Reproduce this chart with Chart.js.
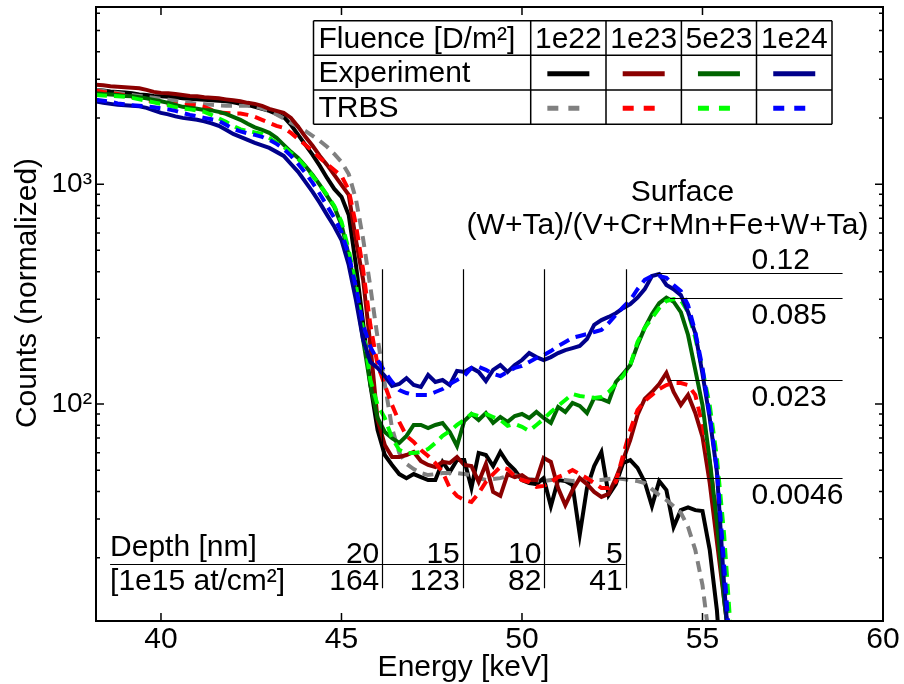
<!DOCTYPE html>
<html><head><meta charset="utf-8">
<script src="https://cdn.jsdelivr.net/npm/chart.js@4/dist/chart.umd.min.js"></script>
<style>html,body{margin:0;padding:0;background:#fff;}canvas{display:block;}</style>
</head><body>
<canvas id="c" width="904" height="684"></canvas>
<script>
// ---- data ----
const energy = [38.2,38.4,38.6,38.8,39.0,39.2,39.4,39.6,39.8,40.0,40.2,40.4,40.6,40.8,41.0,41.2,41.4,41.6,41.8,42.0,42.2,42.4,42.6,42.8,43.0,43.2,43.4,43.6,43.8,44.0,44.2,44.4,44.6,44.8,45.0,45.2,45.4,45.6,45.8,46.0,46.2,46.4,46.6,46.8,47.0,47.2,47.4,47.6,47.8,48.0,48.2,48.4,48.6,48.8,49.0,49.2,49.4,49.6,49.8,50.0,50.2,50.4,50.6,50.8,51.0,51.2,51.4,51.6,51.8,52.0,52.2,52.4,52.6,52.8,53.0,53.2,53.4,53.6,53.8,54.0,54.2,54.4,54.6,54.8,55.0,55.2,55.4,55.6,55.8,56.0];

const exp1e22 = [2685,2670,2640,2630,2615,2590,2562,2548,2522,2510,
 2497,2485,2458,2446,2432,2420,2407,2395,2383,2357,
 2320,2296,2249,2202,2155,2089,2024,1862,1677,1510,
 1359,1211,1068,952,876,725,429,233,122,76.2,
 58.6,52.8,48,46,48,46.5,45.1,45.1,54.5,49,
 55.6,55.6,41.5,59.9,58.6,52.2,60.5,53.9,50.1,45.1,
 43.7,43.2,46,34.3,45.1,44.6,42.8,25.4,41.5,52.2,
 60.5,38.5,43.2,53.9,55.6,51.2,44.2,34.3,44.6,40.6,
 27.6,32.9,33.9,32.9,32.6,21.7,11.5,4,3,3];
const trbs1e22 = [2685,2658,2630,2603,2575,2548,2522,2497,2471,2446,
 2420,2395,2370,2345,2320,2308,2296,2284,2272,2272,
 2272,2272,2260,2213,2155,2078,1993,1902,1824,1749,
 1660,1575,1480,1373,1263,1113,856,563,341,200,
 123,77.8,59.9,53.4,50.6,48.5,47.5,48,48.5,48.5,
 48.5,48,47.5,46,45.1,45.6,46,47,47.5,46.5,
 45.6,45.1,44.6,45.1,45.6,45.1,44.6,45.1,45.6,45.1,
 45.1,45.6,46,45.6,45.1,44.6,43.7,41,38.5,36.6,
 34.3,32,27.6,21.7,15,8.2,3,3,3,3];
const exp1e23 = [2832,2817,2788,2774,2760,2745,2730,2685,2630,2603,
 2590,2575,2548,2522,2510,2485,2471,2458,2432,2407,
 2383,2345,2320,2272,2202,2155,2110,2003,1824,1643,
 1495,1345,1224,1102,993,894,557,367,185.5,84.6,
 65.1,57.4,57.4,58.6,60.5,55,52.8,51.7,54.5,53.9,
 57.4,52.8,52.2,44.2,53.4,39.8,38.2,48,46.5,47.5,
 45.1,45.1,56.8,54.5,41.5,34.7,40.6,46,43.2,39.8,
 37.8,39,46,55.6,68.6,89.2,105.4,113.4,123.3,138.4,
 113.4,99,110,91,70.8,43.7,23.6,12.8,6.9,3];
const trbs1e23 = [2666,2630,2603,2575,2535,2497,2471,2420,2370,2332,
 2320,2308,2296,2284,2284,2249,2178,2122,2110,2099,
 2099,2067,2024,1963,1902,1843,1805,1712,1607,1510,
 1418,1317,1236,1161,1091,942,653,407,229,150.5,
 122,99,82.9,71.6,67.2,61.8,58,53.9,49,41.5,
 38.2,36.6,35.8,39.3,44.2,48,51.7,50.6,47,45.1,
 44.2,42,42.4,44.2,46.5,48,50.1,48,46,43.7,
 41.5,41.5,44.2,58.6,76.2,94,103.2,110,117,122,
 124.5,124.5,122,110,80.3,54.5,30.6,15.8,7.6,3];
const exp5e23 = [2595,2575,2562,2548,2522,2510,2485,2458,2420,2383,
 2345,2296,2249,2226,2202,2178,2167,2133,2089,2024,
 1963,1882,1815,1767,1712,1625,1510,1403,1317,1211,
 1102,993,885,788,653,476,319,195.5,122,86.4,
 74.6,70,66.5,71.6,80.3,80.3,77.7,80.3,82,74.6,
 64.4,83.7,90.1,84.6,91,82,87.3,82.9,88.2,90.1,
 86.4,92,86.4,82,97,92,101.1,98,91,106.6,
 105.4,102.2,126,137,150.5,185.5,222,257,288,305,
 292,262,206,143,99,55.6,29.1,12.8,6.9,3];
const trbs5e23 = [2548,2535,2522,2510,2497,2471,2432,2395,2357,2320,
 2284,2237,2213,2190,2167,2133,2067,1993,1922,1843,
 1776,1749,1721,1694,1625,1542,1480,1388,1303,1199,
 1091,993,894,797,675,502,348,217,128.6,99,
 86.4,70,61.8,59.9,59.9,60.5,62.4,66.5,71.6,75.4,
 80.3,84.6,90.1,88.2,90.1,87.3,84.6,79.5,81.1,78.7,
 75.4,80.3,85.5,92,98,104.3,111.1,108.8,107.7,106.6,
 107.7,113.4,123.3,134.1,150.5,191.5,222,246,273,294,
 300,297,262,200,143,99,56.8,25.4,8.4,3];
const exp1e24 = [2378,2345,2320,2296,2284,2272,2260,2226,2167,2110,
 2078,2035,2003,1983,1963,1932,1892,1843,1767,1694,
 1643,1591,1542,1502,1462,1403,1345,1236,1138,1025,
 922,822,725,642,557,429,297,195.5,155.3,146,
 134,120.7,123.3,131.1,122,119.5,135.5,126,128.6,122,
 141.5,140,146,140,127.3,143,150.5,140,150.5,158.5,
 170.5,163.5,158.5,163.5,170.5,176,179.7,183.6,197.5,229,
 241,249,259,273,285,305,333,382,390,348,
 333,313,262,210,137,86.4,49,15,5.5,3];
const trbs1e24 = [2420,2395,2370,2332,2308,2284,2272,2260,2237,2213,
 2190,2155,2110,2067,2035,2003,1973,1942,1862,1786,
 1740,1703,1677,1643,1591,1526,1447,1345,1236,1125,
 1014,903,797,703,606,476,341,229,181.7,158.5,
 140,126,115.8,112.2,110,110,110,113.4,117,123.3,
 128.6,134.1,146,147.5,143,137,134.1,140,146,149,
 155.3,161.8,167,174.2,183.6,191.5,200,204,208,212.7,
 217,233.6,254,276,297,333,367,382,382,375,
 348,327,282,212.7,146,89.2,50.1,18.5,6.2,3];

const fluences = ['1e22','1e23','5e23','1e24'];
const expSeries = [exp1e22, exp1e23, exp5e23, exp1e24];
const trbsSeries = [trbs1e22, trbs1e23, trbs5e23, trbs1e24];
const xTickValues = [40,45,50,55,60];

// annotations (data coordinates)
const depthEnergy = [46.13, 48.36, 50.62, 52.87];
const depthNm = ['20','15','10','5'];
const depthAreal = ['164','123','82','41'];
const depthSpan = [410, 14.5];
const depthRowCounts = 18.8;
const depthRowStart = 38.59;
const surfaceRatio = ['0.12','0.085','0.023','0.0046'];
const surfaceCounts = [394, 305, 128.6, 46.0];
const surfaceStart = [53.73, 54.1, 54.1, 52.58];
const surfaceEnd = 58.88;

// ---- styles ----
const FONT = "'Liberation Sans', Arial, Helvetica, sans-serif";
const expColors = ['#000000','#8b0000','#006400','#00008b'];
const simColors = ['#808080','#ff0000','#00ff00','#0000ff'];
const DASH = [11, 7];
const AREA = {left: 96, top: 7, right: 883, bottom: 621};

const datasets = [];
fluences.forEach((f, i) => {
  datasets.push({label: 'Experiment ' + f, data: energy.map((e, k) => ({x: e, y: expSeries[i][k]})),
    borderColor: expColors[i], borderWidth: 4, pointRadius: 0, fill: false, tension: 0, clip: 0});
  datasets.push({label: 'TRBS ' + f, data: energy.map((e, k) => ({x: e, y: trbsSeries[i][k]})),
    borderColor: simColors[i], borderWidth: 4, borderDash: DASH, pointRadius: 0, fill: false, tension: 0, clip: 0});
});
datasets.forEach((d, i) => { d.order = datasets.length - i; });

function txt(ctx, s, x, y, align, size) {
  ctx.font = (size || 30) + 'px ' + FONT;
  ctx.textAlign = align || 'left';
  ctx.textBaseline = 'alphabetic';
  ctx.fillText(s, x, y);
}

const deco = {
  id: 'deco',
  afterDatasetsDraw(chart) {
    const {ctx, chartArea: a, scales: {x, y}} = chart;
    ctx.save();
    ctx.fillStyle = '#000';
    ctx.strokeStyle = '#000';

    // depth markers
    ctx.lineWidth = 1.2;
    ctx.beginPath();
    const yTop = y.getPixelForValue(depthSpan[0]);
    const yBot = y.getPixelForValue(depthSpan[1]);
    depthEnergy.forEach(e => {
      const px = Math.round(x.getPixelForValue(e)) + 0.5;
      ctx.moveTo(px, yTop); ctx.lineTo(px, yBot);
    });
    const yRow = Math.round(y.getPixelForValue(depthRowCounts)) + 0.5;
    ctx.moveTo(x.getPixelForValue(depthRowStart), yRow);
    ctx.lineTo(x.getPixelForValue(depthEnergy[depthEnergy.length - 1]), yRow);
    surfaceCounts.forEach((c, i) => {
      const py = Math.round(y.getPixelForValue(c)) + 0.5;
      ctx.moveTo(x.getPixelForValue(surfaceStart[i]), py);
      ctx.lineTo(x.getPixelForValue(surfaceEnd), py);
    });
    ctx.stroke();

    const xRowStart = x.getPixelForValue(depthRowStart);
    txt(ctx, 'Depth [nm]', xRowStart, yRow - 9);
    txt(ctx, '[1e15 at/cm²]', xRowStart, yRow + 25);
    depthEnergy.forEach((e, i) => {
      const px = x.getPixelForValue(e) - 3;
      txt(ctx, depthNm[i], px, yRow - 2, 'right');
      txt(ctx, depthAreal[i], px, yRow + 25, 'right');
    });

    const xLab = x.getPixelForValue(surfaceEnd) - 91;
    surfaceCounts.forEach((c, i) => {
      const py = y.getPixelForValue(c);
      const off = i === 0 ? -4 : 26;
      txt(ctx, surfaceRatio[i], xLab, py + off);
    });
    txt(ctx, 'Surface', 682.5, 200.5, 'center');
    txt(ctx, '(W+Ta)/(V+Cr+Mn+Fe+W+Ta)', 667.5, 234, 'center');

    // legend table
    const cx = [313.5, 530.7, 606, 681.4, 756.5, 832];
    const ry = [20.7, 55.3, 90, 124.3];
    ctx.fillStyle = '#fff';
    ctx.fillRect(cx[0], ry[0], cx[5] - cx[0], ry[3] - ry[0]);
    ctx.fillStyle = '#000';
    ctx.lineWidth = 1.5;
    ctx.beginPath();
    cx.forEach(v => { ctx.moveTo(v, ry[0]); ctx.lineTo(v, ry[3]); });
    ry.forEach(v => { ctx.moveTo(cx[0], v); ctx.lineTo(cx[5], v); });
    ctx.stroke();
    txt(ctx, 'Fluence [D/m²]', cx[0] + 5, ry[0] + 27);
    txt(ctx, 'Experiment', cx[0] + 5, ry[1] + 27);
    txt(ctx, 'TRBS', cx[0] + 5, ry[2] + 27);
    fluences.forEach((f, i) => {
      const mid = (cx[i + 1] + cx[i + 2]) / 2;
      txt(ctx, f, mid, ry[0] + 27, 'center');
      ctx.lineWidth = 5;
      ctx.strokeStyle = expColors[i];
      ctx.setLineDash([]);
      ctx.beginPath();
      ctx.moveTo(mid - 21, (ry[1] + ry[2]) / 2 + 1); ctx.lineTo(mid + 21, (ry[1] + ry[2]) / 2 + 1);
      ctx.stroke();
      ctx.strokeStyle = simColors[i];
      ctx.setLineDash([11, 10]);
      ctx.beginPath();
      ctx.moveTo(mid - 21, (ry[2] + ry[3]) / 2 + 1); ctx.lineTo(mid + 21, (ry[2] + ry[3]) / 2 + 1);
      ctx.stroke();
      ctx.setLineDash([]);
    });

    // frame and inward ticks
    ctx.strokeStyle = '#000';
    ctx.lineWidth = 2;
    ctx.strokeRect(a.left, a.top, a.right - a.left, a.bottom - a.top);
    ctx.lineWidth = 1.5;
    ctx.beginPath();
    xTickValues.forEach(v => {
      const px = x.getPixelForValue(v);
      ctx.moveTo(px, a.bottom); ctx.lineTo(px, a.bottom - 8);
      ctx.moveTo(px, a.top); ctx.lineTo(px, a.top + 8);
    });
    [10, 100, 1000].forEach(d => {
      for (let m = 1; m <= 9; m++) {
        const v = m * d;
        if (v < y.min || v > y.max) continue;
        const py = y.getPixelForValue(v);
        const len = m === 1 ? 8 : 4;
        ctx.moveTo(a.left, py); ctx.lineTo(a.left + len, py);
        ctx.moveTo(a.right, py); ctx.lineTo(a.right - len, py);
      }
    });
    ctx.stroke();

    // axis titles
    txt(ctx, 'Energy [keV]', 463.5, 676, 'center');
    ctx.save();
    ctx.translate(36, 293);
    ctx.rotate(-Math.PI / 2);
    txt(ctx, 'Counts (normalized)', 0, 0, 'center');
    ctx.restore();
    ctx.restore();
  }
};

const pad = {top: 7, right: 21, left: 0, bottom: 0};
const chart = new Chart(document.getElementById('c'), {
  type: 'line',
  data: {datasets},
  options: {
    responsive: false,
    animation: false,
    devicePixelRatio: 1,
    layout: {padding: pad},
    plugins: {legend: {display: false}, tooltip: {enabled: false}},
    scales: {
      x: {
        type: 'linear', min: 38.2, max: 60,
        grid: {display: false, drawTicks: false},
        border: {display: false},
        ticks: {stepSize: 5, includeBounds: false, autoSkip: false, maxRotation: 0,
          color: '#000', font: {family: FONT, size: 30}, padding: 1},
        afterFit(s) { s.height = 63; s.paddingLeft = 0; s.paddingRight = 0; }
      },
      y: {
        type: 'logarithmic', min: 10.3, max: 6400,
        grid: {display: false, drawTicks: false},
        border: {display: false},
        ticks: {autoSkip: false, color: '#000', font: {family: FONT, size: 28}, padding: 4,
          callback: (v) => { const l = Math.log10(v); if (Math.abs(l - 2) < 1e-6) return '10²'; if (Math.abs(l - 3) < 1e-6) return '10³'; return ''; }},
        afterFit(s) { s.width = 96; s.paddingTop = 0; s.paddingBottom = 0; }
      }
    }
  },
  plugins: [deco]
});
// nudge the layout padding so the plot area lands where the reference has it
for (let k = 0; k < 3; k++) {
  const a = chart.chartArea;
  pad.top += AREA.top - a.top;
  pad.left += AREA.left - a.left;
  pad.right += a.right - AREA.right;
  pad.bottom += a.bottom - AREA.bottom;
  chart.options.layout.padding = {...pad};
  chart.update();
}
</script>
</body></html>
